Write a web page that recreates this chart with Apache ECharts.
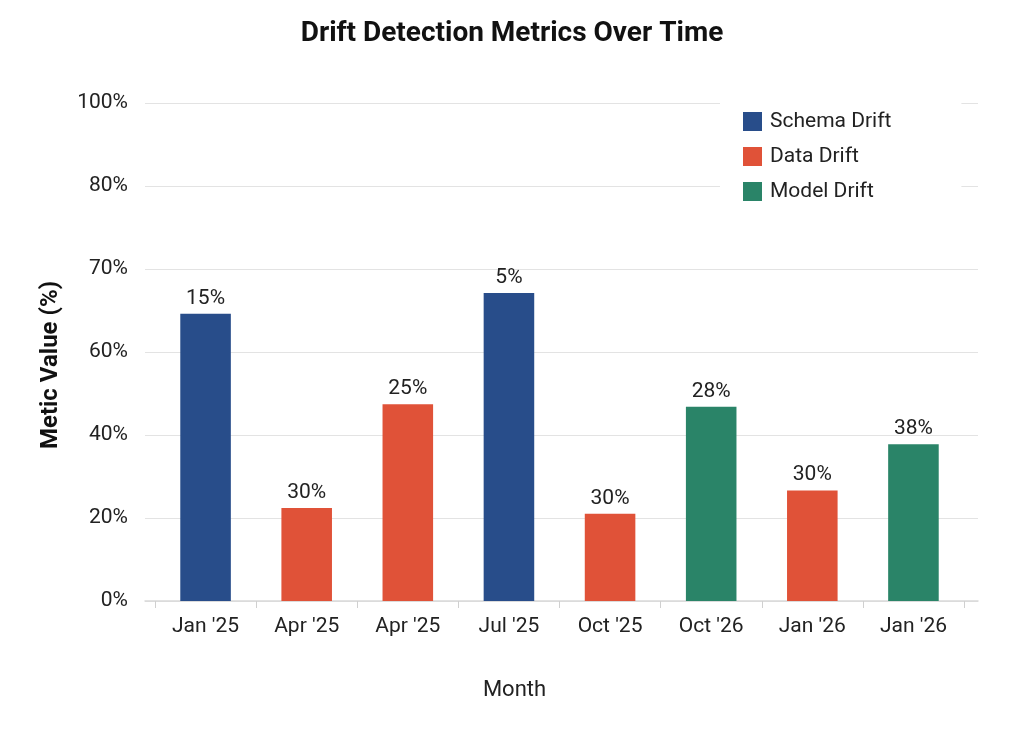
<!DOCTYPE html>
<html>
<head>
<meta charset="utf-8">
<style>html,body{margin:0;padding:0;background:#fff;}#chart{width:1024px;height:739px;}</style>
<script src="https://cdn.jsdelivr.net/npm/echarts@6/dist/echarts.min.js"></script>
</head>
<body>
<div id="chart"></div>
<script>
var categories = ["Jan '25", "Apr '25", "Apr '25", "Jul '25", "Oct '25", "Oct '26", "Jan '26", "Jan '26"];
var yTickLabels = ['0%', '20%', '40%', '60%', '70%', '80%', '100%'];
// bar heights measured in gridline steps (axis positions 0..6)
var schemaDrift = [3.46, null, null, 3.71, null, null, null, null];
var dataDrift   = [null, 1.12, 2.37, null, 1.05, null, 1.33, null];
var modelDrift  = [null, null, null, null, null, 2.34, null, 1.89];
var barLabels = ['15%', '30%', '25%', '5%', '30%', '28%', '30%', '38%'];

var colors = {schema: '#284d8a', data: '#e05238', model: '#2a8468'};
var font = 'Roboto, "Liberation Sans", sans-serif';

function mkSeries(name, data, color) {
  return {
    name: name, type: 'bar', stack: 'one', data: data, barWidth: '50%',
    xAxisIndex: 0, yAxisIndex: 0,
    itemStyle: {color: color},
    label: {
      show: true, position: 'top', distance: 5,
      fontFamily: font, fontSize: 21, color: '#222',
      formatter: function (p) { return barLabels[p.dataIndex]; }
    }
  };
}

var chart = echarts.init(document.getElementById('chart'));
chart.setOption({
  backgroundColor: '#ffffff',
  animation: false,
  title: {
    text: 'Drift Detection Metrics Over Time', left: 'center', top: 15,
    textStyle: {fontFamily: font, fontSize: 28, fontWeight: 'bold', color: '#111'}
  },
  legend: {
    orient: 'vertical', left: 720, top: 97,
    backgroundColor: '#ffffff', padding: [14, 70, 10, 23],
    itemWidth: 19, itemHeight: 19, itemGap: 14,
    textStyle: {fontFamily: font, fontSize: 21, color: '#222', padding: [0, 0, 0, 3]},
    data: [
      {name: 'Schema Drift', icon: 'rect'},
      {name: 'Data Drift', icon: 'rect'},
      {name: 'Model Drift', icon: 'rect'}
    ]
  },
  grid: [
    {left: 155, right: 60, top: 103, bottom: 138},
    {left: 145, right: 46, top: 103, bottom: 138, z: 0}
  ],
  xAxis: [{
    type: 'category', data: categories, gridIndex: 0,
    name: 'Month', nameLocation: 'middle', nameGap: 78,
    nameTextStyle: {fontFamily: font, fontSize: 22, color: '#222', padding: [0, 90, 0, 0]},
    axisLine: {show: false},
    axisTick: {show: true, length: 7, lineStyle: {color: '#d0d0d0'}},
    axisLabel: {fontFamily: font, fontSize: 21, color: '#222', margin: 15}
  }, {
    type: 'value', gridIndex: 1, min: 0, max: 1,
    axisLine: {show: true, lineStyle: {color: '#d9d9d9', width: 1.5}},
    axisTick: {show: false}, axisLabel: {show: false}, splitLine: {show: false}
  }],
  yAxis: [{
    type: 'value', min: 0, max: 6, interval: 1, gridIndex: 0,
    name: 'Metic Value (%)', nameLocation: 'middle', nameGap: 92,
    nameTextStyle: {fontFamily: font, fontSize: 24, fontWeight: 'bold', color: '#111', padding: [0, 26, 0, 0]},
    axisLine: {show: false}, axisTick: {show: false},
    axisLabel: {
      fontFamily: font, fontSize: 21, color: '#222', margin: 27,
      formatter: function (v) { return yTickLabels[Math.round(v)]; }
    },
    splitLine: {show: false}
  }, {
    type: 'value', min: 0, max: 6, interval: 1, gridIndex: 1,
    axisLine: {show: false}, axisTick: {show: false}, axisLabel: {show: false},
    splitLine: {lineStyle: {color: '#e3e3e3', width: 1.2}}
  }],
  series: [
    mkSeries('Schema Drift', schemaDrift, colors.schema),
    mkSeries('Data Drift', dataDrift, colors.data),
    mkSeries('Model Drift', modelDrift, colors.model)
  ]
});
</script>
</body>
</html>
